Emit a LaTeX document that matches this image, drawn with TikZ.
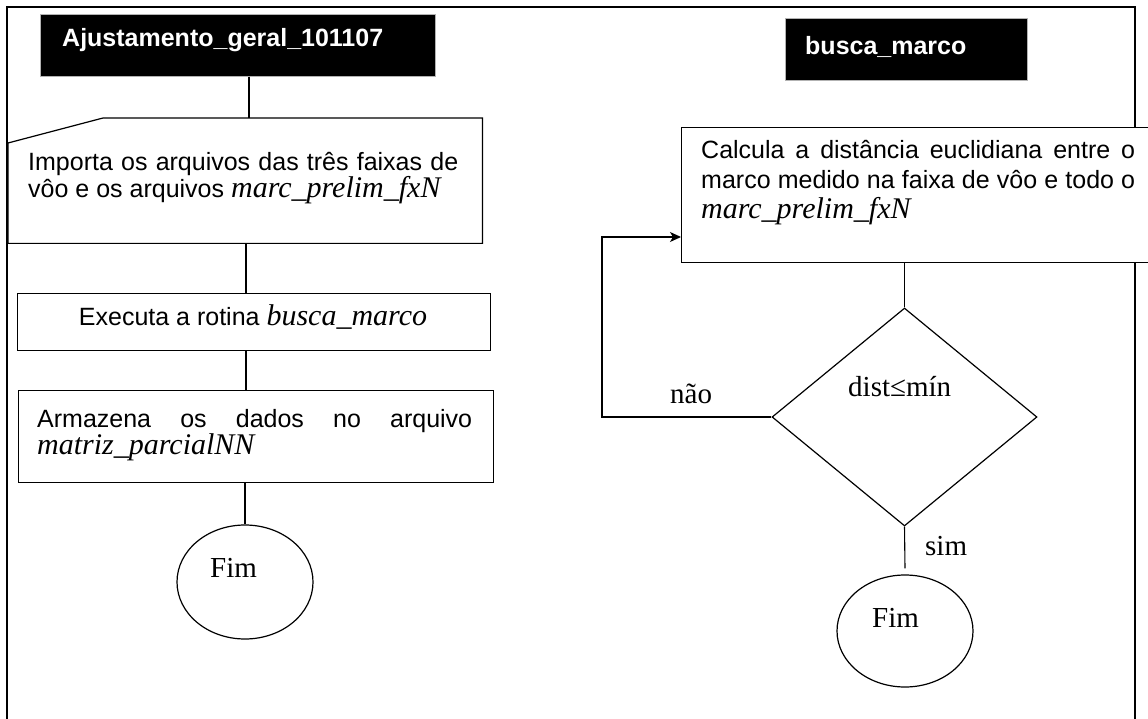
\documentclass[tikz,border=0pt]{standalone}
\usepackage{fontspec}
\setmainfont{Liberation Serif}
\newfontfamily\arialfont{Liberation Sans}
\usetikzlibrary{shapes.geometric,arrows.meta}

% italic serif file names inside the sans body text
\newcommand\tms[1]{{\rmfamily\fontsize{30}{30}\selectfont\itshape #1}}
% one fully justified line
\newcommand\jl[1]{\hbox to \linewidth{#1}}
% a block of body text: width, line distance, content
\newcommand\txtblock[3]{\parbox[t]{#1}{\arialfont\fontsize{25}{#2}\selectfont
  \lineskiplimit=-50pt\relax #3}}

\begin{document}
\begin{tikzpicture}[x=1pt,y=-1pt,
  frame/.style={line width=2pt},
  boxline/.style={line width=1.2pt},
  box/.style={draw, boxline, fill=white, rectangle, inner sep=0pt, anchor=north west},
  area/.style={rectangle, inner sep=0pt, anchor=north west},
  titlebox/.style={fill=black, draw=gray!60, line width=0.6pt, rectangle,
    inner sep=0pt, anchor=north west},
  titletext/.style={anchor=base west, inner sep=0pt, text=white,
    font=\arialfont\bfseries\fontsize{25}{25}\selectfont},
  body/.style={anchor=base west, inner sep=0pt},
  serif/.style={anchor=base west, inner sep=0pt, font=\rmfamily\fontsize{29}{29}\selectfont},
  endnode/.style={draw, boxline, ellipse, inner sep=0pt},
  decision/.style={draw, boxline, diamond, inner sep=0pt},
  link/.style={line width=1.1pt},
  arrowlink/.style={link, -{Stealth[length=11pt,width=10pt,inset=3pt]}}
]
\useasboundingbox (0,0) rectangle (1148,719);
\fill[white] (0,0) rectangle (1148,719);

% outer frame (open at the bottom)
\draw[frame] (7,740) -- (7,7) -- (1135,7) -- (1135,740);

% ---------------- main routine ----------------
\node[titlebox, minimum width=395pt, minimum height=62pt] (titA) at (40,14) {};
\node[titletext] (titAT) at (62,47) {Ajustamento\_geral\_101107};

% manual input shape
\node[area, minimum width=474pt, minimum height=125pt] (imp) at (8,118) {};
\draw[boxline, fill=white] (imp.south west) -- (imp.south east) -- (imp.north east)
  -- ([xshift=95pt]imp.north west) -- ([yshift=-25pt]imp.north west) -- cycle;
\node[body] (impT) at (28,171) {\txtblock{430pt}{27pt}{%
  \jl{Importa os arquivos das três faixas de}\par
  vôo e os arquivos \tms{marc\_prelim\_fxN}}};

\node[box, minimum width=473pt, minimum height=57pt] (exe) at (17,293) {};
\node[body, anchor=base] (exeT) at (253,325)
  {\arialfont\fontsize{25}{26}\selectfont Executa a rotina \tms{busca\_marco}};

\node[box, minimum width=475pt, minimum height=92pt] (arm) at (18,390) {};
\node[body] (armT) at (37,427) {\txtblock{435pt}{27pt}{%
  \jl{Armazena os dados no arquivo}\par
  \tms{matriz\_parcialNN}}};

\node[endnode, minimum width=136pt, minimum height=114pt] (fimA) at (245,582) {};
\node[serif] (fimAT) at (210,577) {Fim};

\coordinate (colA) at (249,0);
\coordinate (colB) at (246,0);
\draw[link] (titA.south -| colA) -- (imp.north -| colA);
\draw[link] (imp.south -| colB) -- (exe.north -| colB);
\draw[link] (exe.south -| colB) -- (arm.north -| colB);
\draw[link] (arm.south -| fimA.north) -- (fimA.north);

% ---------------- busca_marco ----------------
\node[titlebox, minimum width=242pt, minimum height=62pt] (titB) at (785,18) {};
\node[titletext] (titBT) at (805,55) {busca\_marco};

\node[box, minimum width=474pt, minimum height=135pt] (calc) at (681,127) {};
\node[body] (calcT) at (701,159) {\txtblock{434pt}{30pt}{%
  \jl{Calcula a distância euclidiana entre o}\par
  \jl{marco medido na faixa de vôo e todo o}\par
  \tms{marc\_prelim\_fxN}}};

\node[decision, minimum width=265pt, minimum height=218pt] (dia) at (904.5,417) {};
\node[serif] (diaT) at (848,396) {dist≤mín};

\node[endnode, minimum width=136pt, minimum height=112pt] (fimB) at (905,631) {};
\node[serif] (fimBT) at (872,627) {Fim};

\node[serif] (nao) at (670,403) {não};
\node[serif] (sim) at (925,555) {sim};

\coordinate (loopC) at (602,237);
\draw[link] (calc.south -| dia.north) -- (dia.north);
\draw[link] (dia.south) -- ([yshift=6pt]fimB.north);
\draw[arrowlink] (dia.west) -| (loopC) -- (calc.west |- loopC);
\end{tikzpicture}
\end{document}
